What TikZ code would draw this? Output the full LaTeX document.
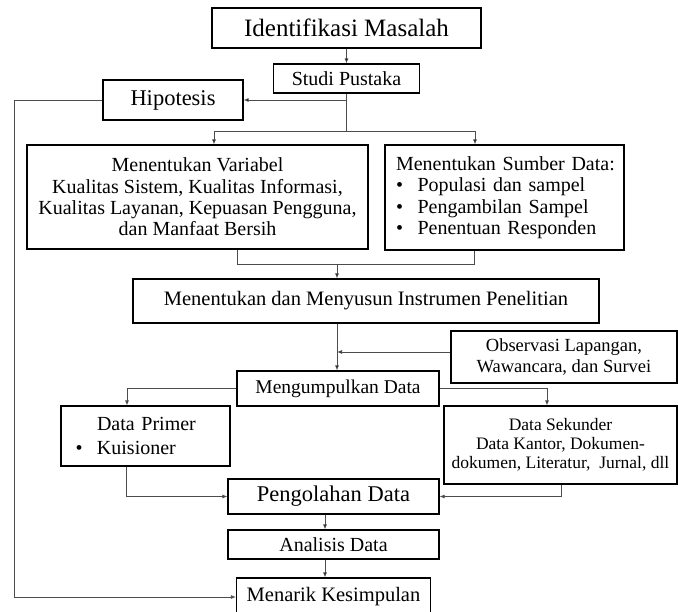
\documentclass[tikz,border=0pt]{standalone}
\usepackage{fontspec}
\setmainfont{Liberation Serif}
\usetikzlibrary{arrows.meta, positioning}

\begin{document}
\begin{tikzpicture}[x=1pt, y=-1pt, on grid, >={Latex[length=5pt, width=4pt]},
    box/.style={draw, line width=1.2pt, inner sep=0pt, align=center},
    link/.style={draw=black!70, line width=0.8pt}]
                \useasboundingbox (0,0) rectangle (678,612);
                \node[box, minimum width=269pt, minimum height=40pt, font=\fontsize{25}{27}\selectfont] (identifikasi) at (346.5,28) {Identifikasi Masalah};
                \node[box, minimum width=146pt, minimum height=29pt, font=\fontsize{20}{22}\selectfont] (studi) [below=50.5pt of identifikasi] {Studi Pustaka};
                \node[box, minimum width=140pt, minimum height=40pt, font=\fontsize{22.5}{24}\selectfont] (hipotesis) at (173,100) {Hipotesis};
                \node[box, minimum width=341pt, minimum height=104pt, font=\fontsize{20}{21.3}\selectfont] (variabel) at (197.5,197) {Menentukan Variabel\\Kualitas Sistem, Kualitas Informasi,\\Kualitas Layanan, Kepuasan Pengguna,\\dan Manfaat Bersih};
                \node[box, align=left, text width=217pt, inner xsep=11pt, minimum height=105pt, font=\fontsize{20}{21.5}\selectfont] (sumber) at (504.5,197.5) {\mbox{Menentukan Sumber Data:}\\\textbullet\hspace{14.5pt}Populasi dan sampel\\\textbullet\hspace{14.5pt}Pengambilan Sampel\\\textbullet\hspace{14.5pt}Penentuan Responden};
                \node[box, minimum width=466pt, minimum height=44pt, font=\fontsize{20.5}{22}\selectfont] (instrumen) at (366,301) {Menentukan dan Menyusun Instrumen Penelitian};
                \node[box, minimum width=226pt, minimum height=52pt, font=\fontsize{18.5}{21}\selectfont] (observasi) at (564,357) {Observasi Lapangan,\\Wawancara, dan Survei};
                \node[box, minimum width=202pt, minimum height=35pt, font=\fontsize{19.5}{21}\selectfont] (kumpul) at (338,388.5) {Mengumpulkan Data};
                \node[box, align=left, text width=140pt, inner xsep=14.5pt, minimum height=60pt, font=\fontsize{20}{24}\selectfont] (primer) at (145.5,436) {\hspace*{21.5pt}Data Primer\\\textbullet\hspace{14.5pt}Kuisioner};
                \node[box, minimum width=233pt, minimum height=78pt, font=\fontsize{17.5}{19}\selectfont] (sekunder) at (560.5,445) {Data Sekunder\\Data Kantor, Dokumen-\\dokumen, Literatur,\ \ Jurnal, dll};
                \node[box, minimum width=211pt, minimum height=35pt, font=\fontsize{22.5}{24}\selectfont] (olah) at (333.5,496.5) {Pengolahan Data};
                \node[box, minimum width=211pt, minimum height=29pt, font=\fontsize{20}{22}\selectfont] (analisis) [below=48pt of olah] {Analisis Data};
                \node[box, minimum width=194pt, minimum height=38pt, font=\fontsize{20.5}{22}\selectfont] (simpulan) [below=52.5pt of analisis] {Menarik Kesimpulan};
                % junctions
                \coordinate (j_var) at (214,131);
                \coordinate (j_sum) at (475,131);
                \coordinate (b_var) at (237,264);
                \coordinate (b_sum) at (474,264);
                \coordinate (b_mid) at (337,264);
                \coordinate (j_obs) at (337,352);
                \coordinate (k_pri) at (127,0);
                \coordinate (k_sek) at (547,0);
                \coordinate (p_olah) at (126,0);
                \coordinate (s_olah) at (561,0);
                \coordinate (a_x) at (325,0);
                \coordinate (l_x) at (14,0);
                \path[link]
                (identifikasi.south) edge[->] (studi.north)
                (studi.south) edge (studi.south |- j_var)
                (studi.south |- hipotesis.east) edge[->] (hipotesis.east)
                (j_var) edge (j_sum)
                (j_var) edge[->] (j_var |- variabel.north)
                (j_sum) edge[->] (j_sum |- sumber.north)
                (b_mid) edge[->] (b_mid |- instrumen.north)
                (instrumen.south -| j_obs) edge[->] (j_obs |- kumpul.north)
                (observasi.west |- j_obs) edge[->] (j_obs)
                (olah.south -| a_x) edge[->] (analisis.north -| a_x)
                (analisis.south -| a_x) edge[->] (simpulan.north -| a_x);
                \draw[link] (variabel.south -| b_var) -- (b_var) -- (b_sum) -- (sumber.south -| b_sum);
                \draw[link, ->] (kumpul.west) -| (k_pri |- primer.north);
                \draw[link, ->] (kumpul.east) -| (k_sek |- sekunder.north);
                \draw[link, ->] (primer.south -| p_olah) |- (olah.west);
                \draw[link, ->] (sekunder.south -| s_olah) |- (olah.east);
                \draw[link, ->] (hipotesis.west) -- (hipotesis.west -| l_x) -- (l_x |- simpulan.west) -- (simpulan.west);
        \end{tikzpicture}
\end{document}
